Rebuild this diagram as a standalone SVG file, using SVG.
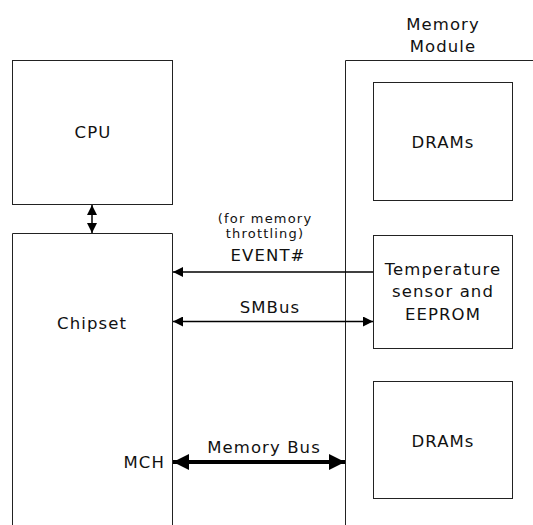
<svg xmlns="http://www.w3.org/2000/svg" width="533" height="525" viewBox="0 0 533 525">
<defs>
<style>
.box{fill:#fff;stroke:#222;stroke-width:1}
.t{font-family:"DejaVu Sans",Verdana,sans-serif;font-size:16.5px;letter-spacing:1.1px;fill:#111;text-anchor:middle}
.s{font-size:13px;letter-spacing:1.2px}
.ln{stroke:#000;stroke-width:1.5;fill:none}
</style>
<marker id="ah" viewBox="0 0 10 10" refX="10" refY="5" markerWidth="14" markerHeight="10" markerUnits="userSpaceOnUse" orient="auto-start-reverse"><path d="M0,0L10,5L0,10z" fill="#000"/></marker>
<marker id="ahb" viewBox="0 0 10 10" refX="10" refY="5" markerWidth="16" markerHeight="16" markerUnits="userSpaceOnUse" orient="auto-start-reverse"><path d="M0,0L10,5L0,10z" fill="#000"/></marker>
</defs>
<rect width="533" height="525" fill="#fff"/>
<g id="module">
<path class="box" d="M345.5,525V60.5H540"/>
<text class="t" x="443" y="30">Memory</text>
<text class="t" x="443" y="52">Module</text>
</g>
<g id="cpu">
<rect class="box" x="12.5" y="60.5" width="160" height="144"/>
<text class="t" x="93" y="138">CPU</text>
</g>
<g id="chipset">
<path class="box" d="M12.5,530V233.5H172.5V530"/>
<text class="t" x="92" y="329">Chipset</text>
<text class="t" x="165" y="468" style="text-anchor:end">MCH</text>
</g>
<g id="dram1">
<rect class="box" x="373.5" y="82.5" width="139" height="118"/>
<text class="t" x="443" y="148">DRAMs</text>
</g>
<g id="temp">
<rect class="box" x="373.5" y="235.5" width="139" height="113"/>
<text class="t" x="443" y="275">Temperature</text>
<text class="t" x="443" y="297">sensor and</text>
<text class="t" x="443" y="320">EEPROM</text>
</g>
<g id="dram2">
<rect class="box" x="373.5" y="381.5" width="139" height="117"/>
<text class="t" x="443" y="447">DRAMs</text>
</g>
<g id="connectors">
<line class="ln" x1="92" y1="205" x2="92" y2="233" marker-start="url(#ah)" marker-end="url(#ah)"/>
<line class="ln" x1="373" y1="272" x2="173" y2="272" marker-end="url(#ah)"/>
<line class="ln" x1="173" y1="321.5" x2="373" y2="321.5" marker-start="url(#ah)" marker-end="url(#ah)"/>
<line class="ln" x1="173" y1="462" x2="345" y2="462" style="stroke-width:4" marker-start="url(#ahb)" marker-end="url(#ahb)"/>
<text class="t s" x="265" y="223">(for memory</text>
<text class="t s" x="265" y="238">throttling)</text>
<text class="t" x="268" y="261">EVENT#</text>
<text class="t" x="270" y="313">SMBus</text>
<text class="t" x="264" y="453">Memory Bus</text>
</g>
</svg>
